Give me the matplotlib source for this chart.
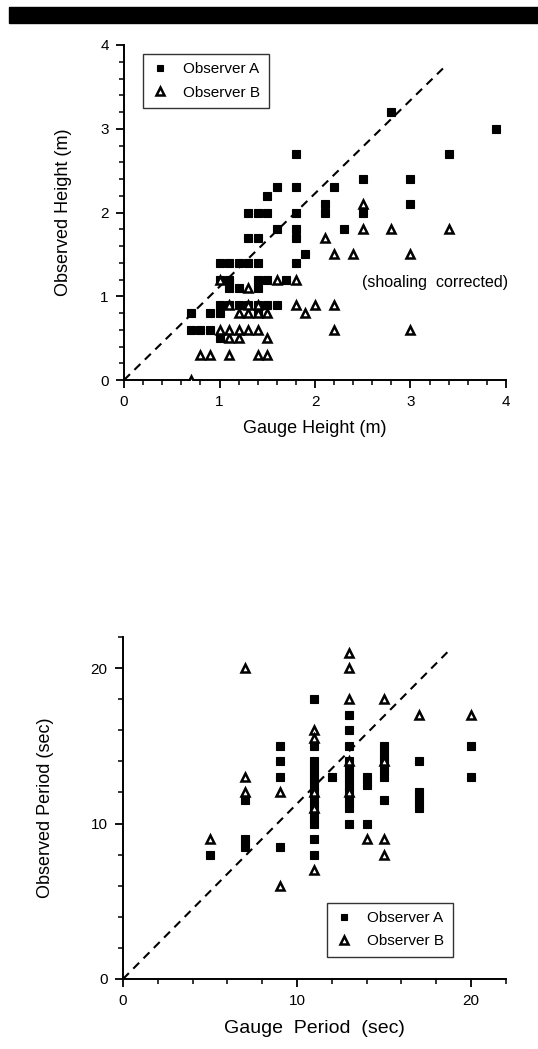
import matplotlib
matplotlib.use("Agg")
import matplotlib.pyplot as plt
from matplotlib.patches import Rectangle
from matplotlib.ticker import MultipleLocator

plt.rcParams['font.family'] = ['Liberation Sans', 'DejaVu Sans']

# ---------------- Top panel: wave heights (m) ----------------
hA_gauge = [0.7, 0.9, 1.0, 1.4,
            0.7, 0.8, 0.9, 1.0,
            1.0, 1.1, 1.2, 1.3, 1.4, 1.5, 1.6,
            1.0, 1.1, 1.4, 1.5, 1.7,
            1.1, 1.2, 1.4,
            1.0, 1.1, 1.2, 1.3, 1.4, 1.8,
            1.9,
            1.3, 1.4, 1.8, 1.8, 1.6, 2.3,
            1.3, 1.4, 1.5, 1.8, 2.1, 2.5,
            2.1, 3.0, 1.5,
            1.6, 1.8, 2.2,
            2.5, 3.0, 1.8, 3.4, 3.9, 2.8]
hA_obs = [0.8, 0.8, 0.8, 0.8,
          0.6, 0.6, 0.6, 0.5,
          0.9, 0.9, 0.9, 0.9, 0.9, 0.9, 0.9,
          1.2, 1.2, 1.2, 1.2, 1.2,
          1.1, 1.1, 1.1,
          1.4, 1.4, 1.4, 1.4, 1.4, 1.4,
          1.5,
          1.7, 1.7, 1.7, 1.8, 1.8, 1.8,
          2.0, 2.0, 2.0, 2.0, 2.0, 2.0,
          2.1, 2.1, 2.2,
          2.3, 2.3, 2.3,
          2.4, 2.4, 2.7, 2.7, 3.0, 3.2]
hB_gauge = [0.7, 0.8, 0.9, 1.1, 1.4, 1.5,
            1.1, 1.2, 1.5,
            1.0, 1.1, 1.2, 1.3, 1.4, 2.2, 3.0,
            1.2, 1.3, 1.4, 1.5, 1.9,
            1.1, 1.3, 1.4, 1.8, 2.0, 2.2,
            1.3, 1.0, 1.6, 1.8,
            2.2, 2.4, 3.0, 2.1, 2.5, 2.8, 3.4, 2.5]
hB_obs = [0.0, 0.3, 0.3, 0.3, 0.3, 0.3,
          0.5, 0.5, 0.5,
          0.6, 0.6, 0.6, 0.6, 0.6, 0.6, 0.6,
          0.8, 0.8, 0.8, 0.8, 0.8,
          0.9, 0.9, 0.9, 0.9, 0.9, 0.9,
          1.1, 1.2, 1.2, 1.2,
          1.5, 1.5, 1.5, 1.7, 1.8, 1.8, 1.8, 2.1]
h_line_x = [0.0, 3.34]
h_line_y = [0.0, 3.72]
h_ticks = [0, 1, 2, 3, 4]

# ---------------- Bottom panel: wave periods (sec) ----------------
pA_gauge = [5, 7, 7, 7, 9, 9, 9, 9,
            11, 11, 11, 11, 11, 11, 11, 11, 11, 11, 11, 11, 11,
            12,
            13, 13, 13, 13, 13, 13, 13, 13, 13, 13, 13,
            14, 14, 14,
            15, 15, 15, 15, 15, 15,
            17, 17, 17, 17,
            20, 20]
pA_obs = [8, 11.5, 9, 8.5, 15, 14, 13, 8.5,
          18, 15, 14, 13.5, 13, 12.5, 12, 11.5, 11, 10.5, 10, 9, 8,
          13,
          17, 16, 15, 14, 13.5, 13, 12.5, 12, 11.5, 11, 10,
          13, 12.5, 10,
          15, 14.5, 14, 13.5, 13, 11.5,
          14, 12, 11.5, 11,
          15, 13]
pB_gauge = [5, 7, 7, 7, 9, 9,
            11, 11, 11, 11, 11,
            13, 13, 13, 13, 13,
            14, 15, 15, 15, 15, 17, 20]
pB_obs = [9, 20, 13, 12, 12, 6,
          16, 15.5, 12, 11, 7,
          21, 20, 18, 14, 12,
          9, 18, 14, 9, 8, 17, 17]
p_line_x = [0.0, 18.8]
p_line_y = [0.0, 21.2]
p_ticks = [0, 10, 20]

W, H = 538, 1049
fig = plt.figure(figsize=(W / 100, H / 100), dpi=100)
fig.patch.set_facecolor('white')

# black bar across the top
fig.patches.append(Rectangle((9 / W, 1 - 23 / H), 1 - 9 / W, 16 / H,
                             transform=fig.transFigure, color='black', zorder=0))

sqA = dict(linestyle='none', marker='s', markersize=5.8, markerfacecolor='black',
           markeredgecolor='black', markeredgewidth=0.8)
triB = dict(linestyle='none', marker='^', markersize=6.2, markerfacecolor='white',
            markeredgecolor='black', markeredgewidth=1.8)


def style_axes(ax, major, minor):
    for s in ('top', 'right'):
        ax.spines[s].set_visible(False)
    for s in ('left', 'bottom'):
        ax.spines[s].set_linewidth(1.4)
    ax.xaxis.set_major_locator(MultipleLocator(major))
    ax.yaxis.set_major_locator(MultipleLocator(major))
    ax.xaxis.set_minor_locator(MultipleLocator(minor))
    ax.yaxis.set_minor_locator(MultipleLocator(minor))
    ax.tick_params(which='major', direction='out', length=6, width=1.3, labelsize=11, pad=5)
    ax.tick_params(which='minor', direction='out', length=3.5, width=1.1)


# ---- top axes ----
ax1 = fig.add_axes([124 / W, 1 - 380 / H, 382 / W, 335 / H])
ax1.plot(h_line_x, h_line_y, color='black', linestyle=(0, (4, 3)), linewidth=1.5, zorder=1)
ax1.plot(hA_gauge, hA_obs, label='Observer A', zorder=3, **sqA)
ax1.plot(hB_gauge, hB_obs, label='Observer B', zorder=4, **triB)
ax1.set_xlim(0, 4)
ax1.set_ylim(0, 4)
style_axes(ax1, 1, 0.2)
ax1.set_xticks(h_ticks)
ax1.set_yticks(h_ticks)
ax1.set_xlabel('Gauge Height (m)', fontsize=13)
ax1.set_ylabel('Observed Height (m)', fontsize=13)
ax1.xaxis.set_label_coords(0.5, -0.12)
ax1.yaxis.set_label_coords(-0.135, 0.5)
ax1.text(2.49, 1.16, '(shoaling  corrected)', fontsize=11.5, ha='left', va='center')
leg1 = ax1.legend(loc='upper left', bbox_to_anchor=(0.049, 0.973), fontsize=11,
                  frameon=True, fancybox=False, edgecolor='black', borderpad=0.55,
                  handlelength=1.2, handletextpad=0.9, labelspacing=0.6,
                  borderaxespad=0, markerscale=0.85)
leg1.get_frame().set_linewidth(1.0)

# ---- bottom axes ----
ax2 = fig.add_axes([123 / W, 1 - 979 / H, 382.8 / W, 342 / H])
ax2.plot(p_line_x, p_line_y, color='black', linestyle=(0, (4, 3)), linewidth=1.5, zorder=1)
ax2.plot(pA_gauge, pA_obs, label='Observer A', zorder=3, **sqA)
ax2.plot(pB_gauge, pB_obs, label='Observer B', zorder=4, **triB)
ax2.set_xlim(0, 22)
ax2.set_ylim(0, 22)
style_axes(ax2, 10, 2)
ax2.set_xticks(p_ticks)
ax2.set_yticks(p_ticks)
ax2.set_xlabel('Gauge  Period  (sec)', fontsize=14)
ax2.set_ylabel('Observed Period (sec)', fontsize=13)
ax2.xaxis.set_label_coords(0.5, -0.12)
ax2.yaxis.set_label_coords(-0.18, 0.5)
leg2 = ax2.legend(loc='lower left', bbox_to_anchor=(0.532, 0.065), fontsize=11,
                  frameon=True, fancybox=False, edgecolor='black', borderpad=0.55,
                  handlelength=1.2, handletextpad=0.9, labelspacing=0.6,
                  borderaxespad=0, markerscale=0.85)
leg2.get_frame().set_linewidth(1.0)

fig.savefig('out.png', dpi=100, facecolor='white')
